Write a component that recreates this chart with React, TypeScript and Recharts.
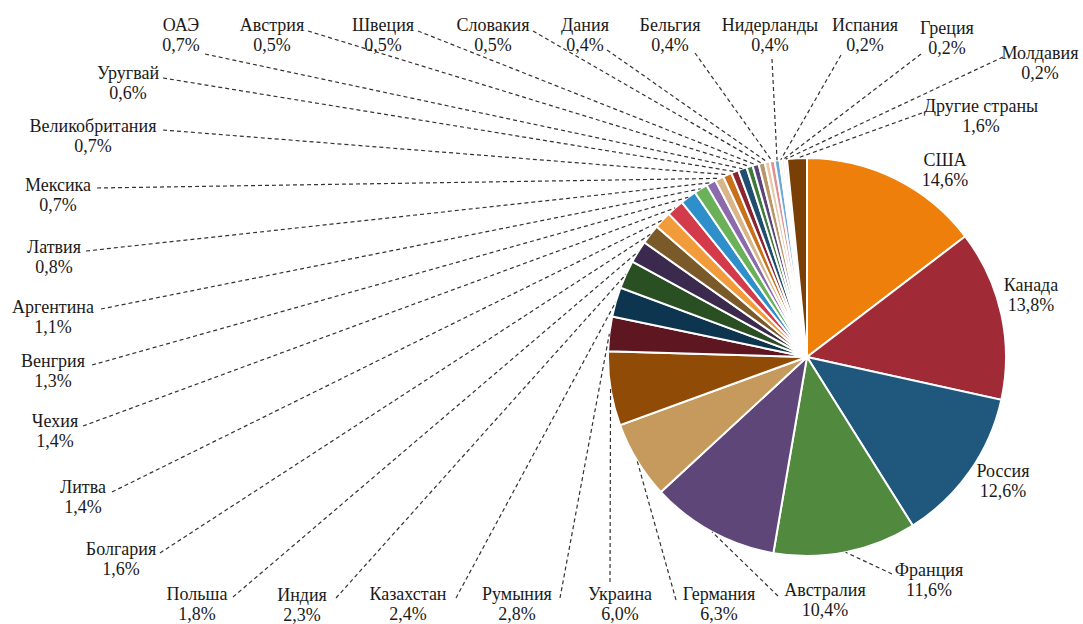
import React from "react";
import { PieChart, Pie, Cell } from "recharts";

// countries clockwise from 12 o'clock
const countries = [
  "США", "Канада", "Россия", "Франция", "Австралия", "Германия", "Украина",
  "Румыния", "Казахстан", "Индия", "Польша", "Болгария", "Литва", "Чехия",
  "Венгрия", "Аргентина", "Латвия", "Мексика", "Великобритания", "Уругвай",
  "ОАЭ", "Австрия", "Швеция", "Словакия", "Дания", "Бельгия", "Нидерланды",
  "Испания", "Греция", "Молдавия", "Другие страны",
];

const shares = [
  14.6, 13.8, 12.6, 11.6, 10.4, 6.3, 6.0,
  2.8, 2.4, 2.3, 1.8, 1.6, 1.4, 1.4,
  1.3, 1.1, 0.8, 0.7, 0.7, 0.6,
  0.7, 0.5, 0.5, 0.5, 0.4, 0.4, 0.4,
  0.2, 0.2, 0.2, 1.6,
];

const colors = [
  "#ee7f0b", "#a02b37", "#1f587c", "#51893f", "#5e4679", "#c59a5c", "#904b06",
  "#5e1720", "#0e3550", "#2a4f23", "#3b2a4d", "#7b5a2a", "#f29b3a", "#d43b4a",
  "#2f8fcb", "#6bb15a", "#8b6bae", "#d9b68a", "#c8701a", "#8b2330",
  "#1f4e6e", "#3f7a3a", "#5a4478", "#b89668", "#e8c7a8", "#e09090", "#6fa8d8",
  "#d6e6f0", "#f0d8d0", "#e8e8f0", "#7a3e07",
];

const data = countries.map((name, i) => ({ name, value: shares[i] }));

// label placement: text centre x, name baseline y, leader line end (ax, ay)
const labelLayout = [
  { x: 945, y: 166 },
  { x: 1031, y: 291 },
  { x: 1003, y: 477 },
  { x: 929, y: 576, ax: 892, ay: 574 },
  { x: 825, y: 596, ax: 778, ay: 596 },
  { x: 719, y: 600, ax: 676, ay: 600 },
  { x: 620, y: 600, ax: 610, ay: 582 },
  { x: 517, y: 600, ax: 560, ay: 598 },
  { x: 408, y: 600, ax: 456, ay: 598 },
  { x: 302, y: 601, ax: 336, ay: 598 },
  { x: 197, y: 600, ax: 233, ay: 597 },
  { x: 121, y: 555, ax: 160, ay: 553 },
  { x: 83, y: 493, ax: 112, ay: 492 },
  { x: 55, y: 427, ax: 83, ay: 426 },
  { x: 53, y: 367, ax: 92, ay: 365 },
  { x: 53, y: 313, ax: 101, ay: 309 },
  { x: 54, y: 253, ax: 86, ay: 251 },
  { x: 58, y: 191, ax: 97, ay: 188 },
  { x: 93, y: 132, ax: 163, ay: 130 },
  { x: 128, y: 79, ax: 163, ay: 78 },
  { x: 181, y: 31, ax: 205, ay: 54 },
  { x: 272, y: 31, ax: 308, ay: 31 },
  { x: 383, y: 31, ax: 418, ay: 31 },
  { x: 493, y: 31, ax: 533, ay: 31 },
  { x: 585, y: 31, ax: 607, ay: 50 },
  { x: 670, y: 31, ax: 695, ay: 53 },
  { x: 770, y: 31, ax: 772, ay: 59 },
  { x: 865, y: 31, ax: 841, ay: 55 },
  { x: 947, y: 34, ax: 921, ay: 54 },
  { x: 1040, y: 59, ax: 1003, ay: 57 },
  { x: 981, y: 112, ax: 922, ay: 113 },
];

const RAD = Math.PI / 180;
const FONT = "'Liberation Serif', 'DejaVu Serif', 'Times New Roman', serif";

const renderLabel = (props: any) => {
  const { cx, cy, midAngle, outerRadius, index, name, value } = props;
  const pos = labelLayout[index];
  const ex = cx + outerRadius * Math.cos(-midAngle * RAD);
  const ey = cy + outerRadius * Math.sin(-midAngle * RAD);
  const pct = value.toFixed(1).replace(".", ",") + "%";
  return (
    <g key={`lbl-${index}`}>
      {pos.ax !== undefined && (
        <line
          x1={pos.ax}
          y1={pos.ay}
          x2={ex}
          y2={ey}
          stroke="#333"
          strokeWidth={1.2}
          strokeDasharray="4 3"
        />
      )}
      <text
        x={pos.x}
        y={pos.y}
        textAnchor="middle"
        fill="#1a1a1a"
        fontFamily={FONT}
        fontSize={18}
      >
        <tspan x={pos.x} dy={0}>{name}</tspan>
        <tspan x={pos.x} dy={20}>{pct}</tspan>
      </text>
    </g>
  );
};

export default function App() {
  return (
    <div style={{ position: "absolute", left: 0, top: 0, background: "#fff", fontFamily: FONT }}>
      <PieChart width={1083} height={624} margin={{ top: 0, right: 0, bottom: 0, left: 0 }}>
        <Pie
          data={data}
          dataKey="value"
          nameKey="name"
          cx={807}
          cy={357}
          outerRadius={199}
          startAngle={90}
          endAngle={-270}
          stroke="#fff"
          strokeWidth={2}
          labelLine={false}
          label={renderLabel}
          isAnimationActive={false}
        >
          {data.map((d, i) => (
            <Cell key={d.name} fill={colors[i]} />
          ))}
        </Pie>
      </PieChart>
    </div>
  );
}
